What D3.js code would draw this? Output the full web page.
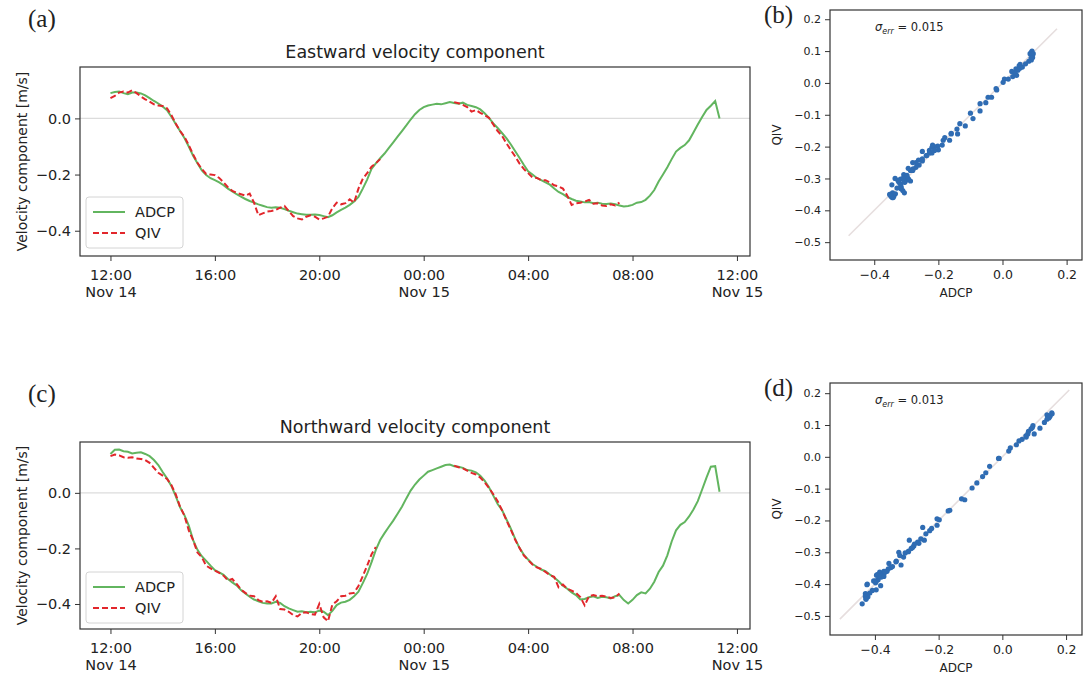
<!DOCTYPE html>
<html>
<head>
<meta charset="utf-8">
<script src="https://cdnjs.cloudflare.com/ajax/libs/d3/7.8.5/d3.min.js"></script>
<style>
  body { margin: 0; background: #fff; }
  svg { font-family: "DejaVu Sans", sans-serif; }
</style>
</head>
<body>
<script>
// // DATA ////////////////////////////////////////////////////////////////////

// samples every 10 minutes, starting Nov 14 12:00
const startTime = new Date(2017, 10, 14, 12, 0);
const stepMinutes = 10;

// eastward component [m/s]
const eastAdcp = [
  0.090, 0.094, 0.096, 0.090, 0.086, 0.092,
  0.092, 0.089, 0.082, 0.072, 0.062, 0.053,
  0.042, 0.029, 0.006, -0.020, -0.045, -0.070,
  -0.100, -0.133, -0.160, -0.185, -0.202, -0.213,
  -0.220, -0.228, -0.238, -0.250, -0.260, -0.270,
  -0.279, -0.287, -0.294, -0.300, -0.306, -0.311,
  -0.316, -0.318, -0.316, -0.318, -0.323, -0.329,
  -0.334, -0.339, -0.341, -0.343, -0.343, -0.342,
  -0.344, -0.348, -0.352, -0.345, -0.335, -0.326,
  -0.318, -0.308, -0.296, -0.280, -0.250, -0.218,
  -0.180, -0.160, -0.142, -0.125, -0.105, -0.085,
  -0.065, -0.045, -0.025, -0.004, 0.015, 0.030,
  0.040, 0.046, 0.049, 0.052, 0.050, 0.054,
  0.058, 0.055, 0.052, 0.056, 0.048, 0.044,
  0.040, 0.032, 0.018, 0.002, -0.018, -0.034,
  -0.052, -0.070, -0.092, -0.116, -0.140, -0.165,
  -0.188, -0.200, -0.212, -0.220, -0.228, -0.236,
  -0.250, -0.262, -0.270, -0.280, -0.287, -0.293,
  -0.296, -0.299, -0.298, -0.302, -0.300, -0.304,
  -0.305, -0.303, -0.306, -0.310, -0.314, -0.312,
  -0.308, -0.300, -0.298, -0.290, -0.275, -0.255,
  -0.225, -0.200, -0.174, -0.145, -0.118, -0.105,
  -0.095, -0.078, -0.050, -0.022, 0.005, 0.030,
  0.045, 0.062, 0.000
];

const eastQiv = [
  0.072, 0.080, 0.092, 0.096, 0.092, 0.100,
  0.090, 0.078, 0.068, 0.060, 0.050, 0.046,
  0.044, 0.036, 0.012, -0.018, -0.045, -0.065,
  -0.095, -0.128, -0.158, -0.180, -0.198, -0.200,
  -0.202, -0.212, -0.228, -0.245, -0.258, -0.265,
  -0.270, -0.275, -0.268, -0.300, -0.345, -0.338,
  -0.332, -0.330, -0.326, -0.318, -0.312, -0.330,
  -0.348, -0.356, -0.360, -0.350, -0.345, -0.350,
  -0.360, -0.356, -0.350, -0.320, -0.300, -0.306,
  -0.302, -0.288, -0.300, -0.250, -0.215, -0.195,
  -0.172, -0.160, -0.145,
  null, null, null, null, null, null, null, null,
  null, null, null, null, null, null, null, null,
  0.058, 0.054, 0.048, 0.040, 0.024,
  0.030, 0.020, 0.012, 0.002, -0.022, -0.045,
  -0.062, -0.088, -0.112, -0.135, -0.160, -0.180,
  -0.195, -0.210, -0.212, -0.220, -0.220, -0.228,
  -0.238, -0.242, -0.250, -0.275, -0.308, -0.302,
  -0.300, -0.296, -0.290, -0.304, -0.302, -0.310,
  -0.312, -0.306, -0.310, -0.300
];

// northward component [m/s]
const northAdcp = [
  0.140, 0.155, 0.156, 0.150, 0.148, 0.142,
  0.144, 0.146, 0.140, 0.132, 0.118, 0.100,
  0.075, 0.052, 0.025, -0.012, -0.052, -0.080,
  -0.118, -0.170, -0.205, -0.228, -0.245, -0.262,
  -0.278, -0.286, -0.295, -0.310, -0.322, -0.333,
  -0.350, -0.362, -0.374, -0.384, -0.390, -0.396,
  -0.398, -0.398, -0.392, -0.396, -0.408, -0.416,
  -0.422, -0.428, -0.426, -0.430, -0.428, -0.430,
  -0.424, -0.428, -0.440, -0.425, -0.404, -0.395,
  -0.392, -0.385, -0.372, -0.356, -0.325, -0.292,
  -0.250, -0.205, -0.170, -0.145, -0.122, -0.100,
  -0.075, -0.050, -0.020, 0.008, 0.030, 0.048,
  0.062, 0.076, 0.082, 0.088, 0.094, 0.100,
  0.102, 0.096, 0.094, 0.090, 0.082, 0.080,
  0.074, 0.062, 0.044, 0.020, -0.010, -0.040,
  -0.062, -0.095, -0.128, -0.165, -0.198, -0.222,
  -0.240, -0.256, -0.266, -0.276, -0.282, -0.294,
  -0.305, -0.318, -0.334, -0.345, -0.358, -0.368,
  -0.384, -0.382, -0.376, -0.372, -0.378, -0.374,
  -0.376, -0.380, -0.372, -0.368, -0.386, -0.398,
  -0.385, -0.368, -0.358, -0.362, -0.345, -0.320,
  -0.285, -0.262, -0.225, -0.175, -0.135, -0.115,
  -0.105, -0.085, -0.060, -0.030, 0.012, 0.055,
  0.094, 0.096, 0.004
];

const northQiv = [
  0.132, 0.138, 0.135, 0.128, 0.126, 0.128,
  0.124, 0.122, 0.118, 0.108, 0.090, 0.072,
  0.062, 0.050, 0.028, -0.005, -0.050, -0.082,
  -0.135, -0.170, -0.215, -0.232, -0.262, -0.272,
  -0.280, -0.288, -0.298, -0.315, -0.310, -0.328,
  -0.348, -0.360, -0.370, -0.372, -0.386, -0.392,
  -0.390, -0.396, -0.372, -0.418, -0.420, -0.428,
  -0.440, -0.445, -0.432, -0.430, -0.436, -0.438,
  -0.400, -0.448, -0.462, -0.402, -0.390, -0.372,
  -0.370, -0.362, -0.360, -0.335, -0.300, -0.262,
  -0.222, -0.195,
  null, null, null, null, null, null, null, null, null,
  null, null, null, null, null, null, null, null,
  0.098, 0.092, 0.088, 0.080, 0.072,
  0.066, 0.055, 0.038, 0.018, -0.005, -0.030,
  -0.062, -0.098, -0.132, -0.168, -0.198, -0.225,
  -0.242, -0.258, -0.268, -0.274, -0.285, -0.296,
  -0.302, -0.340, -0.330, -0.345, -0.352, -0.360,
  -0.375, -0.405, -0.372, -0.368, -0.372, -0.370,
  -0.374, -0.378, -0.376, -0.362
];

const seriesYTicks = [-0.4, -0.2, 0.0];
const scatterXTicks = [-0.4, -0.2, 0.0, 0.2];
const scatterYTicks = [0.2, 0.1, 0.0, -0.1, -0.2, -0.3, -0.4, -0.5];

// 1:1 reference line ends, and the error std shown on each scatter
const diagEast = [-0.48, 0.17];
const diagNorth = [-0.51, 0.21];
const sigmaEast = "0.015";
const sigmaNorth = "0.013";

// // SET PARAMETERS //////////////////////////////////////////////////////////

const width = 1083;
const height = 675;

const green = "#62b55f";
const red = "#e2262b";
const blue = "#2f6cb3";
const frame = "#333";

const svg = d3.select("body")
  .append("svg")
  .attr("width", width)
  .attr("height", height);

const toRows = (adcp, qiv) => adcp.map((v, i) => ({
  t: d3.timeMinute.offset(startTime, i * stepMinutes),
  adcp: v,
  qiv: qiv[i] === undefined ? null : qiv[i]
}));

const lastTime = d3.timeMinute.offset(startTime, (eastAdcp.length - 1) * stepMinutes);
const pad = (lastTime - startTime) * 0.05;

const x = d3.scaleTime()
  .domain([new Date(+startTime - pad), new Date(+lastTime + pad)])
  .range([80, 750]);

const fmtTick = d3.format(".1f");

// // TIME SERIES PANEL ///////////////////////////////////////////////////////

function drawSeries(top, bottom, title, rows, label) {
  const y = d3.scaleLinear().domain([-0.49, 0.183]).range([bottom, top]);
  const g = svg.append("g");

  // zero line
  g.append("line")
    .attr("x1", 80).attr("x2", 750)
    .attr("y1", y(0)).attr("y2", y(0))
    .attr("stroke", "#dcdcdc")
    .attr("stroke-width", 1.3);

  const lineA = d3.line()
    .x(d => x(d.t))
    .y(d => y(d.adcp));

  const lineQ = d3.line()
    .defined(d => d.qiv !== null)
    .x(d => x(d.t))
    .y(d => y(d.qiv));

  g.append("path")
    .datum(rows)
    .attr("d", lineA)
    .attr("fill", "none")
    .attr("stroke", green)
    .attr("stroke-width", 2);

  g.append("path")
    .datum(rows)
    .attr("d", lineQ)
    .attr("fill", "none")
    .attr("stroke", red)
    .attr("stroke-width", 2)
    .attr("stroke-dasharray", "6,3");

  // frame
  g.append("rect")
    .attr("x", 80).attr("y", top)
    .attr("width", 670).attr("height", bottom - top)
    .attr("fill", "none")
    .attr("stroke", frame)
    .attr("stroke-width", 1.2);

  // y axis
  const ya = g.append("g")
    .attr("transform", "translate(80,0)")
    .call(d3.axisLeft(y).tickValues(seriesYTicks).tickFormat(fmtTick).tickSize(5).tickPadding(4));
  ya.select(".domain").remove();
  ya.selectAll("line").attr("stroke", frame);
  ya.selectAll("text").attr("font-size", "14.5px").attr("fill", "#222")
    .attr("font-family", "DejaVu Sans");

  // x axis, date on 00:00 and 12:00
  const xa = g.append("g")
    .attr("transform", `translate(0,${bottom})`)
    .call(d3.axisBottom(x).ticks(d3.timeHour.every(4)).tickSize(5).tickFormat(""));
  xa.select(".domain").remove();
  xa.selectAll("line").attr("stroke", frame);
  xa.selectAll(".tick").each(function (d) {
    const t = d3.select(this).select("text")
      .attr("y", 0).attr("dy", null)
      .attr("font-size", "14.5px").attr("fill", "#222")
      .attr("font-family", "DejaVu Sans");
    t.append("tspan").attr("x", 0).attr("y", 24).text(d3.timeFormat("%H:%M")(d));
    if (d.getHours() % 12 === 0) {
      t.append("tspan").attr("x", 0).attr("y", 41).text(d3.timeFormat("%b %-d")(d));
    }
  });

  g.append("text")
    .attr("x", 415).attr("y", top - 9)
    .attr("text-anchor", "middle")
    .attr("font-size", "17.5px")
    .attr("fill", "#222")
    .text(title);

  g.append("text")
    .attr("transform", `translate(27,${(top + bottom) / 2}) rotate(-90)`)
    .attr("text-anchor", "middle")
    .attr("font-size", "14px")
    .attr("fill", "#222")
    .text("Velocity component [m/s]");

  // legend
  const lg = g.append("g").attr("transform", `translate(86,${top + 130})`);
  lg.append("rect")
    .attr("width", 97).attr("height", 51).attr("rx", 3)
    .attr("fill", "#fff").attr("fill-opacity", 0.8)
    .attr("stroke", "#d4d4d4");
  [["ADCP", green, null], ["QIV", red, "6,3"]].forEach((e, i) => {
    lg.append("line")
      .attr("x1", 7).attr("x2", 39)
      .attr("y1", 15 + i * 21).attr("y2", 15 + i * 21)
      .attr("stroke", e[1]).attr("stroke-width", 2)
      .attr("stroke-dasharray", e[2]);
    lg.append("text")
      .attr("x", 49).attr("y", 15 + i * 21)
      .attr("dy", "0.36em")
      .attr("font-size", "14.5px")
      .attr("fill", "#222")
      .text(e[0]);
  });

  svg.append("text")
    .attr("x", 28).attr("y", top - 40)
    .attr("font-family", "Liberation Serif, serif")
    .attr("font-size", "25px")
    .attr("fill", "#222")
    .text(label);
}

// // SCATTER PANEL ///////////////////////////////////////////////////////////

function drawScatter(top, bottom, xDom, yDom, rows, diag, sigma, label) {
  const sx = d3.scaleLinear().domain(xDom).range([830, 1082]);
  const sy = d3.scaleLinear().domain(yDom).range([bottom, top]);
  const g = svg.append("g");
  const pts = rows.filter(d => d.qiv !== null);

  g.append("line")
    .attr("x1", sx(diag[0])).attr("y1", sy(diag[0]))
    .attr("x2", sx(diag[1])).attr("y2", sy(diag[1]))
    .attr("stroke", "#e6dede")
    .attr("stroke-width", 1.6);

  g.selectAll("circle")
    .data(pts)
    .enter()
    .append("circle")
    .attr("cx", d => sx(d.adcp))
    .attr("cy", d => sy(d.qiv))
    .attr("r", 2.6)
    .attr("fill", blue);

  g.append("rect")
    .attr("x", 830).attr("y", top)
    .attr("width", 252).attr("height", bottom - top)
    .attr("fill", "none")
    .attr("stroke", frame)
    .attr("stroke-width", 1.2);

  const xa = g.append("g")
    .attr("transform", `translate(0,${bottom})`)
    .call(d3.axisBottom(sx).tickValues(scatterXTicks).tickFormat(fmtTick).tickSize(5).tickPadding(5));
  xa.select(".domain").remove();
  xa.selectAll("line").attr("stroke", frame);
  xa.selectAll("text").attr("font-size", "12.5px").attr("fill", "#222")
    .attr("font-family", "DejaVu Sans");

  const ya = g.append("g")
    .attr("transform", "translate(830,0)")
    .call(d3.axisLeft(sy).tickValues(scatterYTicks).tickFormat(fmtTick).tickSize(5).tickPadding(4));
  ya.select(".domain").remove();
  ya.selectAll("line").attr("stroke", frame);
  ya.selectAll("text").attr("font-size", "11px").attr("fill", "#222")
    .attr("font-family", "DejaVu Sans");

  g.append("text")
    .attr("x", 956).attr("y", bottom + 37)
    .attr("text-anchor", "middle")
    .attr("font-size", "12px")
    .attr("fill", "#222")
    .text("ADCP");

  g.append("text")
    .attr("transform", `translate(781,${(top + bottom) / 2}) rotate(-90)`)
    .attr("text-anchor", "middle")
    .attr("font-size", "12px")
    .attr("fill", "#222")
    .text("QIV");

  const s = g.append("text")
    .attr("x", 875).attr("y", top + 21)
    .attr("font-size", "11.5px")
    .attr("fill", "#222");
  s.append("tspan").attr("font-style", "italic").text("σ");
  s.append("tspan").attr("font-style", "italic").attr("font-size", "8px").attr("dy", 3).text("err");
  s.append("tspan").attr("dy", -3).text(" = " + sigma);

  svg.append("text")
    .attr("x", 764).attr("y", top + 13)
    .attr("font-family", "Liberation Serif, serif")
    .attr("font-size", "25px")
    .attr("fill", "#222")
    .text(label);
}

const eastRows = toRows(eastAdcp, eastQiv);
const northRows = toRows(northAdcp, northQiv);

drawSeries(67, 256, "Eastward velocity component", eastRows, "(a)");
drawSeries(442, 629, "Northward velocity component", northRows, "(c)");
drawScatter(10, 260, [-0.538, 0.248], [-0.556, 0.229], eastRows, diagEast, sigmaEast, "(b)");
drawScatter(383, 635, [-0.541, 0.25], [-0.56, 0.232], northRows, diagNorth, sigmaNorth, "(d)");
</script>
</body>
</html>
